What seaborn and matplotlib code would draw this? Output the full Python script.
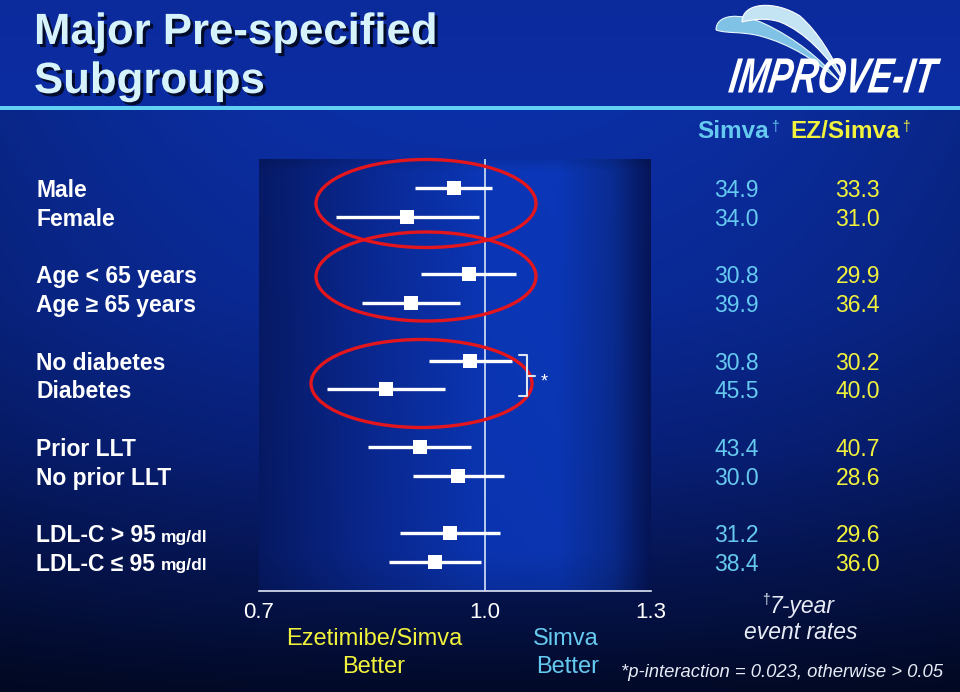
import numpy as np
import pandas as pd
import matplotlib
matplotlib.use("Agg")
import matplotlib.pyplot as plt
import matplotlib.transforms as mtransforms
import matplotlib.patheffects as pe
import seaborn as sns
from matplotlib.colors import to_rgb
from matplotlib.patches import Ellipse, PathPatch, Rectangle
from matplotlib.path import Path
from matplotlib.textpath import TextPath
from matplotlib.font_manager import FontProperties
from matplotlib.ticker import NullLocator

# ---- data ----
subgroups = ["Male", "Female", "Age < 65 years", "Age \u2265 65 years",
             "No diabetes", "Diabetes", "Prior LLT", "No prior LLT",
             "LDL-C > 95", "LDL-C \u2264 95"]
unit_suffix = ["", "", "", "", "", "", "", "", "mg/dl", "mg/dl"]
rows = [0, 1, 3, 4, 6, 7, 9, 10, 12, 13]
hr = [0.952, 0.885, 0.975, 0.890, 0.977, 0.856, 0.903, 0.959, 0.947, 0.925]
ci_lo = [0.895, 0.791, 0.904, 0.824, 0.916, 0.779, 0.832, 0.893, 0.874, 0.860]
ci_hi = [1.011, 0.991, 1.051, 0.961, 1.043, 0.939, 0.979, 1.030, 1.025, 0.994]
simva_rate = ["34.9", "34.0", "30.8", "39.9", "30.8", "45.5", "43.4", "30.0", "31.2", "38.4"]
ez_simva_rate = ["33.3", "31.0", "29.9", "36.4", "30.2", "40.0", "40.7", "28.6", "29.6", "36.0"]
x_ticks = [0.7, 1.0, 1.3]
x_tick_labels = ["0.7", "1.0", "1.3"]

df = pd.DataFrame({"subgroup": subgroups, "row": rows, "hr": hr,
                   "lo": ci_lo, "hi": ci_hi})

sns.set_theme(style="white")
plt.rcParams["font.family"] = ["Liberation Sans", "DejaVu Sans"]

WHITE = "#ffffff"
CYAN = "#66caf0"
YELLOW = "#f2f23c"
SOFT = "#e6ebf5"


def ramp(stops, n):
    pos = np.array([s[0] for s in stops], dtype=float)
    cols = np.array([to_rgb(s[1]) for s in stops])
    t = np.arange(n)
    return np.stack([np.interp(t, pos, cols[:, k]) for k in range(3)], axis=-1)


W, H = 960, 692
fig = plt.figure(figsize=(9.6, 6.92), dpi=100)

# background layer (pixel coordinates)
bg = fig.add_axes([0, 0, 1, 1])
vert = ramp([(0, "#0b2a9c"), (105, "#0c2da2"), (110, "#0b2fa6"), (300, "#0a2a98"),
             (450, "#08207a"), (560, "#061656"), (691, "#020a28")], H)
xs = (np.arange(W) - W / 2) / (W / 2)
hfac = 1 - 0.18 * xs ** 2
img = vert[:, None, :] * np.ones((1, W, 1))
img[110:] *= hfac[None, :, None]
bg.imshow(img, extent=(0, W, H, 0), aspect="auto", zorder=0)
bg.add_patch(Rectangle((0, 105.5), W, 4.5, color="#62d0f2", lw=0, zorder=1))

# forest panel gradient
px0, px1, py0, py1 = 259, 651, 159, 591
pw, ph = px1 - px0, py1 - py0
hor = ramp([(0, "#061a66"), (0.3 * pw, "#0a2994"), (0.57 * pw, "#0b36b6"),
            (0.76 * pw, "#0b37b8"), (0.9 * pw, "#0a2c92"), (pw - 1, "#051558")], pw)
vfac = np.interp(np.arange(ph), [0, 12, ph - 40, ph - 1], [0.9, 1.0, 0.96, 0.85])
panel = hor[None, :, :] * vfac[:, None, None]
bg.imshow(panel, extent=(px0, px1, py1, py0), aspect="auto", zorder=1)
bg.set_xlim(0, W)
bg.set_ylim(H, 0)
bg.axis("off")

# title
shadow = [pe.SimplePatchShadow(offset=(2.2, -2.2), shadow_rgbFace="#000820", alpha=0.9),
          pe.Normal()]
for txt, yb in [("Major Pre-specified", 44), ("Subgroups", 93)]:
    bg.text(34, yb, txt, color="#d6f3fb", fontsize=31.5, fontweight="bold",
            va="baseline", ha="left", path_effects=shadow, zorder=3)

# logo: swooshes + condensed italic word mark
sw_a = Path([(716, 30), (716, 14), (740, 12), (765, 24), (795, 38), (822, 60), (838, 80),
             (815, 60), (790, 44), (760, 36), (740, 31), (728, 34), (716, 30)],
            [Path.MOVETO] + [Path.CURVE4] * 12)
sw_b = Path([(742, 22), (742, 2), (775, 0), (800, 16), (818, 32), (832, 55), (843, 80),
             (826, 55), (805, 32), (780, 22), (765, 17), (750, 20), (742, 22)],
            [Path.MOVETO] + [Path.CURVE4] * 12)
bg.add_patch(PathPatch(sw_a, fc="#7fc2e6", ec="#e8f6fc", lw=0.8, zorder=3))
bg.add_patch(PathPatch(sw_b, fc="#c4e4f4", ec="#ffffff", lw=0.8, zorder=3))
fp = FontProperties(family="Liberation Sans", weight="bold", style="italic")
tp = TextPath((0, 0), "IMPROVE-IT", size=1, prop=fp)
ext = tp.get_extents()
logo_tf = (mtransforms.Affine2D().translate(-ext.x0, -ext.y0)
           .skew_deg(12, 0)
           .scale(213 / (ext.width + 0.2 * ext.height), -35 / ext.height)
           .translate(728, 93))
bg.add_patch(PathPatch(logo_tf.transform_path(tp), fc=WHITE, ec="none", zorder=4))

# column headers with superscript daggers
for hx, head, col in [(697, "Simva", CYAN), (790, "EZ/Simva", YELLOW)]:
    t = bg.text(hx, 138, head, color=col, fontsize=17.5, fontweight="bold",
                va="baseline", zorder=3)
    bg.annotate("\u2020", xy=(1, 0.5), xycoords=t, xytext=(1.5, 0),
                textcoords="offset points", color=col, fontsize=10, va="baseline",
                zorder=3)

# ---- forest plot ----
ax = fig.add_axes([px0 / W, (H - py1) / H, pw / W, ph / H])
ax.patch.set_alpha(0)
ax.set_xscale("log")
ax.axvline(1.0, color="#c6d6f2", lw=1.3, zorder=1)
ax.hlines(df["row"], df["lo"], df["hi"], color=WHITE, lw=2.4, zorder=2)
sns.scatterplot(data=df, x="hr", y="row", marker="s", s=100, color=WHITE,
                edgecolor=WHITE, linewidth=0, ax=ax, zorder=3, legend=False)
ax.set_xlim(0.7, 1.3)
ax.set_ylim(14, -1)
ax.xaxis.set_minor_locator(NullLocator())
ax.set_xticks(x_ticks)
ax.set_xticklabels(x_tick_labels)
ax.set_yticks([])
ax.set_xlabel("")
ax.set_ylabel("")
for side in ["top", "left", "right"]:
    ax.spines[side].set_visible(False)
ax.spines["bottom"].set_color("#dfe6f5")
ax.spines["bottom"].set_linewidth(1.2)
ax.tick_params(axis="x", direction="in", length=4, width=1.2, color="#dfe6f5",
               labelcolor=WHITE, labelsize=16, pad=8)

# row labels and event rates, x in pixels, y on the row scale
trans = mtransforms.blended_transform_factory(bg.transData, ax.transData)
for lab, unit, r, s_rate, e_rate in zip(subgroups, unit_suffix, rows, simva_rate, ez_simva_rate):
    t = ax.text(36, r + 0.31, lab, transform=trans, color=WHITE, fontsize=16.5,
                fontweight="bold", va="baseline", ha="left")
    if unit:
        ax.annotate(unit, xy=(1, 0.25), xycoords=t, xytext=(4, 0),
                    textcoords="offset points", color=WHITE, fontsize=12.5,
                    fontweight="bold", va="baseline", ha="left")
    ax.text(759, r + 0.31, s_rate, transform=trans, color=CYAN, fontsize=16.5,
            va="baseline", ha="right")
    ax.text(880, r + 0.31, e_rate, transform=trans, color=YELLOW, fontsize=16.5,
            va="baseline", ha="right")

# ---- overlay: highlight ellipses, bracket, notes ----
over = fig.add_axes([0, 0, 1, 1])
over.set_xlim(0, W)
over.set_ylim(H, 0)
over.axis("off")
for cx, cy, ew, eh in [(426, 203.5, 220, 88), (426, 276.5, 220, 89), (421.5, 383.5, 221, 88)]:
    over.add_patch(Ellipse((cx, cy), ew, eh, fill=False, ec="#e3161e", lw=2.4))
over.plot([519, 527, 527, 519], [355, 355, 396, 396], color="#dde4f2", lw=1.5)
over.plot([527, 535], [375.5, 375.5], color="#dde4f2", lw=1.5)
over.text(544, 386, "*", color=WHITE, fontsize=13, ha="center", va="baseline")

over.text(374, 645, "Ezetimibe/Simva", color=YELLOW, fontsize=17, ha="center", va="baseline")
over.text(374, 673, "Better", color=YELLOW, fontsize=17, ha="center", va="baseline")
over.text(566, 645, "Simva", color=CYAN, fontsize=17, ha="center", va="baseline")
over.text(568, 673, "Better", color=CYAN, fontsize=17, ha="center", va="baseline")

over.text(762, 604, "\u2020", color=SOFT, fontsize=10, ha="left", va="baseline")
over.text(770, 613, "7-year", color=SOFT, fontsize=16.5, style="italic", ha="left", va="baseline")
over.text(801, 639, "event rates", color=SOFT, fontsize=16.5, style="italic",
          ha="center", va="baseline")
over.text(782, 677, "*p-interaction = 0.023, otherwise > 0.05", color=SOFT, fontsize=13.3,
          style="italic", ha="center", va="baseline")

fig.savefig("out.png", dpi=100)
plt.close(fig)
